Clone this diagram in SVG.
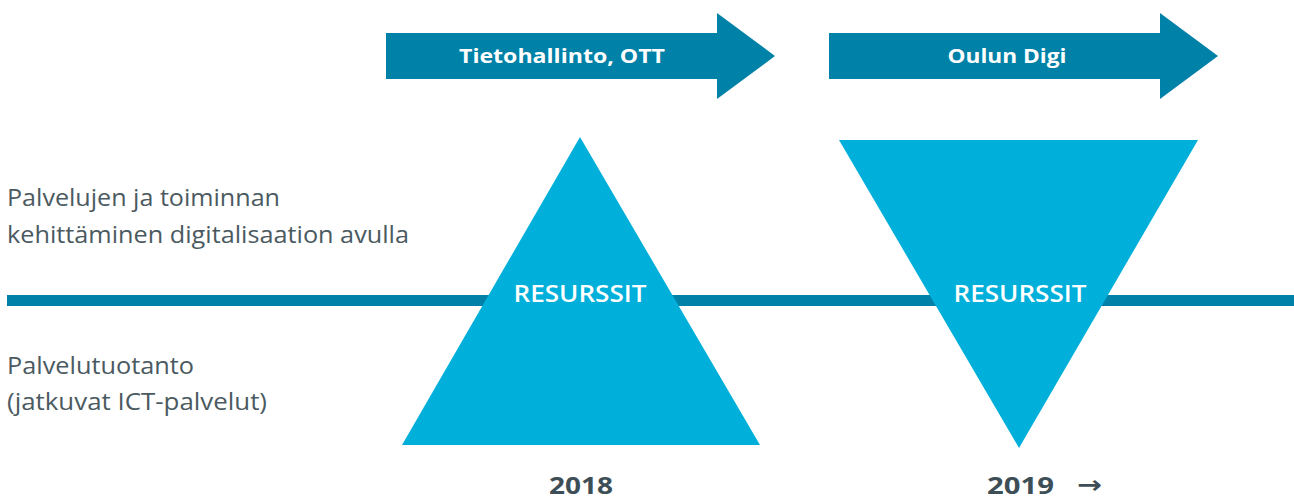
<svg xmlns="http://www.w3.org/2000/svg" width="1294" height="499" viewBox="0 0 1294 499">
<style>
.arrow{fill:#0081A7}
.tri{fill:#00B0DA}
.lbl{font-family:"Open Sans","Liberation Sans",sans-serif;font-size:23px;fill:#4B5A61}
.alab{font-family:"Open Sans","Liberation Sans",sans-serif;font-size:20px;font-weight:700;fill:#FFFFFF;text-anchor:middle}
.res{font-family:"Open Sans","Liberation Sans",sans-serif;font-size:23px;font-weight:600;fill:#FFFFFF;text-anchor:middle}
.year{font-family:"Open Sans","Liberation Sans",sans-serif;font-size:24px;font-weight:700;fill:#3E4E57}
.yarrow{font-family:"DejaVu Sans",sans-serif;font-size:24px;font-weight:700;fill:#3E4E57}
</style>
<rect width="1294" height="499" fill="#FFFFFF"/>
<g id="connectors">
<rect x="7" y="295" width="1287" height="11" fill="#0081A7"/>
</g>
<g id="arrow-ott">
<path class="arrow" d="M386,33 H717 V13 L775,56 L717,99 V79 H386 Z"/>
<text class="alab" x="562" y="63" textLength="206" lengthAdjust="spacingAndGlyphs">Tietohallinto, OTT</text>
</g>
<g id="arrow-digi">
<path class="arrow" d="M829,33 H1160 V13 L1218,56 L1160,99 V79 H829 Z"/>
<text class="alab" x="1007" y="63" textLength="119" lengthAdjust="spacingAndGlyphs">Oulun Digi</text>
</g>
<g id="label-top">
<text class="lbl" x="7" y="206" textLength="273" lengthAdjust="spacingAndGlyphs">Palvelujen ja toiminnan</text>
<text class="lbl" x="7" y="243" textLength="402" lengthAdjust="spacingAndGlyphs">kehittäminen digitalisaation avulla</text>
</g>
<g id="label-bottom">
<text class="lbl" x="7" y="374" textLength="187" lengthAdjust="spacingAndGlyphs">Palvelutuotanto</text>
<text class="lbl" x="7" y="410" textLength="260" lengthAdjust="spacingAndGlyphs">(jatkuvat ICT-palvelut)</text>
</g>
<g id="triangle-2018">
<polygon class="tri" points="580,137 760,445 402,445"/>
<text class="res" x="580" y="302" textLength="133" lengthAdjust="spacingAndGlyphs">RESURSSIT</text>
</g>
<g id="triangle-2019">
<polygon class="tri" points="839,140 1198,140 1019,448"/>
<text class="res" x="1020" y="302" textLength="133" lengthAdjust="spacingAndGlyphs">RESURSSIT</text>
</g>
<g id="year-2018">
<text class="year" x="549" y="494" textLength="64" lengthAdjust="spacingAndGlyphs">2018</text>
</g>
<g id="year-2019">
<text class="year" x="987" y="494" textLength="67" lengthAdjust="spacingAndGlyphs">2019</text>
<text class="yarrow" x="1077" y="493" textLength="25" lengthAdjust="spacingAndGlyphs">→</text>
</g>
</svg>
